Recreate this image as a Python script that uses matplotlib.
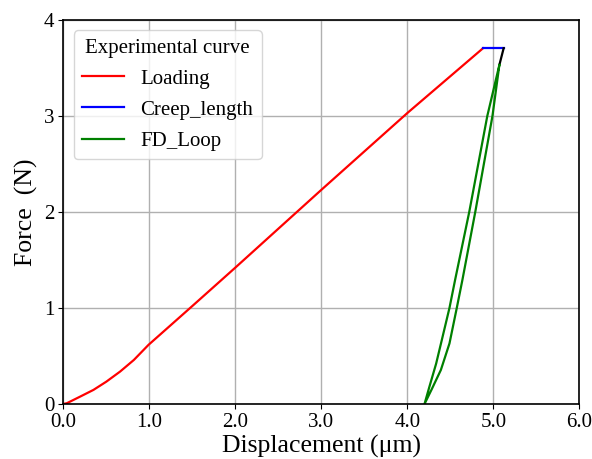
import numpy as np
import matplotlib
matplotlib.use('Agg')
import matplotlib.pyplot as plt

plt.rcParams['font.family'] = ['Liberation Serif', 'DejaVu Serif']

# loading curve (displacement in um, force in N)
load_x = [0.0, 0.04, 0.195, 0.35, 0.50, 0.66, 0.82, 0.99, 1.5, 2.0, 3.0, 4.0, 4.88]
load_y = [0.0, 0.007, 0.076, 0.146, 0.232, 0.337, 0.458, 0.615, 1.02, 1.42, 2.23, 3.03, 3.705]

# creep segment at max force
creep_x = [4.88, 5.12]
creep_y = [3.705, 3.705]

# start of unloading (black)
unl_x = [5.12, 5.07]
unl_y = [3.705, 3.53]

# force-displacement loop: unloading branch then reloading branch
loop_x = [5.07, 4.99, 4.79, 4.64, 4.575, 4.49, 4.39, 4.28, 4.20,
          4.257, 4.335, 4.41, 4.49, 4.555, 4.72, 4.93, 5.07]
loop_y = [3.53, 3.00, 2.00, 1.29, 1.00, 0.63, 0.354, 0.146, 0.0,
          0.18, 0.42, 0.70, 1.00, 1.29, 2.00, 3.00, 3.53]

fig = plt.figure(figsize=(5.92, 4.59), dpi=100)
ax = fig.add_axes([0.107, 0.12, 0.8716, 0.8366])

ax.plot(load_x, load_y, color='red', lw=1.6, label='Loading')
ax.plot(creep_x, creep_y, color='blue', lw=1.6, label='Creep_length')
ax.plot(unl_x, unl_y, color='black', lw=1.6)
ax.plot(loop_x, loop_y, color='green', lw=1.6, label='FD_Loop')

ax.set_xlim(0, 6)
ax.set_ylim(0, 4)
ax.set_xticks(np.arange(0, 7, 1))
ax.set_xticklabels(['%.1f' % v for v in range(7)])
ax.set_yticks([0, 1, 2, 3, 4])
ax.tick_params(labelsize=15, pad=3)
ax.grid(True, color='#b0b0b0', lw=1)
for s in ax.spines.values():
    s.set_linewidth(1.2)
ax.set_xlabel('Displacement (\u03bcm)', fontsize=18.5, labelpad=2)
ax.set_ylabel('Force  (N)', fontsize=18.5, labelpad=4)

leg = ax.legend(title='Experimental curve', fontsize=15, title_fontsize=15,
                loc='upper left', handlelength=2.0, labelspacing=0.55)

fig.savefig('out.png', dpi=100)
